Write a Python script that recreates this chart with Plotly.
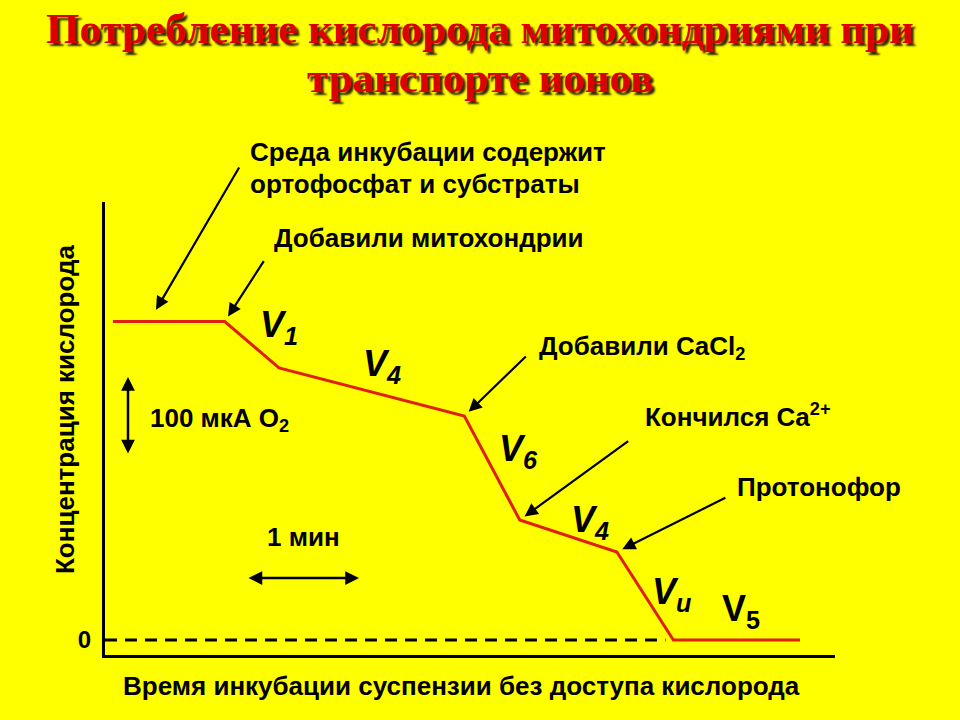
import plotly.graph_objects as go

# ---- data (time in minutes, O2 concentration in µM) ----
trace_time = [0.07, 1.06, 1.54, 3.18, 3.67, 4.53, 5.03, 6.15]
trace_o2 = [398, 398, 340, 280, 150, 110, 0, 0]
zero_time = [0.0, 4.96]
zero_o2 = [0, 0]
y_tick_vals = [0]
y_tick_text = ["0"]

title_lines = ["Потребление кислорода митохондриями при", "транспорте ионов"]
y_title = "Концентрация кислорода"
x_title = "Время инкубации суспензии без доступа кислорода"

# ---- layout geometry ----
W, H = 960, 720
L, R, T, B = 105, 835, 202, 655
X0, X1 = 0.0, (R - L) / 113.0
Y_ZERO_PX = 640
Y0, Y1 = -(B - Y_ZERO_PX) / 0.8, (Y_ZERO_PX - T) / 0.8


def dx(px):
    return X0 + (px - L) / (R - L) * (X1 - X0)


def dy(py):
    return Y0 + (B - py) / (B - T) * (Y1 - Y0)


def px_(px):
    return (px - L) / (R - L)


def py_(py):
    return (B - py) / (B - T)


fig = go.Figure()
fig.add_trace(go.Scatter(x=zero_time, y=zero_o2, mode="lines",
                         line=dict(color="black", width=3, dash="12px,8px"),
                         hoverinfo="skip", showlegend=False))
fig.add_trace(go.Scatter(x=trace_time, y=trace_o2, mode="lines",
                         line=dict(color="#E0200C", width=3),
                         showlegend=False))

SANS = "Liberation Sans, Arial, sans-serif"
TXT = 26
ann = []

# title with shadow
for txt, cy in zip(title_lines, [28, 78]):
    ann.append(dict(xref="paper", yref="paper", x=px_(480), y=py_(cy),
                    text=txt, showarrow=False, xanchor="center", yanchor="middle",
                    font=dict(family="Liberation Serif, Times New Roman, serif",
                              size=43, color="#DD0000", weight="bold",
                              shadow="3px 3px 2px #3a2a00")))

# plain labels (left px, center py, text)
labels = [
    (248, 152, "Среда инкубации содержит"),
    (248, 184, "ортофосфат и субстраты"),
    (272, 238, "Добавили митохондрии"),
    (537, 347, "Добавили CaCl<sub>2</sub>"),
    (643, 415, "Кончился Ca<sup>2+</sup>"),
    (735, 487, "Протонофор"),
    (148, 419, "100 мкА O<sub>2</sub>"),
    (265, 537, "1 мин"),
]
for lx, ly, txt in labels:
    ann.append(dict(x=px_(lx), y=py_(ly), xref="paper", yref="paper", text=txt,
                    showarrow=False, xanchor="left", yanchor="middle",
                    font=dict(family=SANS, size=TXT, color="black", weight="bold")))

# rate labels
rates = [
    (258, 327, "<i>V<sub>1</sub></i>"),
    (361, 366, "<i>V<sub>4</sub></i>"),
    (497, 451, "<i>V<sub>6</sub></i>"),
    (569, 522, "<i>V<sub>4</sub></i>"),
    (650, 594, "<i>V<sub>и</sub></i>"),
    (720, 611, "V<sub>5</sub>"),
]
for lx, ly, txt in rates:
    ann.append(dict(x=px_(lx), y=py_(ly), xref="paper", yref="paper", text=txt,
                    showarrow=False, xanchor="left", yanchor="middle",
                    font=dict(family=SANS, size=36, color="black", weight="bold")))

# pointer arrows: (tip x, tip y in data, tail offset px)
pointers = [
    (dx(153), dy(315), 87, -149),
    (trace_time[1], trace_o2[1], 40, -62),
    (trace_time[3], trace_o2[3], 63, -61),
    (trace_time[4], trace_o2[4], 110, -80),
    (trace_time[5], trace_o2[5], 110, -55),
]
for tx, ty, ax, ay in pointers:
    ann.append(dict(x=tx, y=ty, xref="x", yref="y", ax=ax, ay=ay, text="",
                    showarrow=True, arrowhead=2, arrowsize=1.2, arrowwidth=2.2,
                    arrowcolor="black", standoff=6))

# scale bars (double-headed)
ann.append(dict(x=dx(128), y=dy(377), ax=0, ay=78, xref="x", yref="y", text="",
                showarrow=True, arrowhead=2, startarrowhead=2, arrowside="end+start",
                arrowsize=1.1, startarrowsize=1.1, arrowwidth=2.5, arrowcolor="black"))
ann.append(dict(x=dx(359), y=dy(578), ax=-112, ay=0, xref="x", yref="y", text="",
                showarrow=True, arrowhead=2, startarrowhead=2, arrowside="end+start",
                arrowsize=1.1, startarrowsize=1.1, arrowwidth=2.5, arrowcolor="black"))

# axis titles
ann.append(dict(xref="paper", yref="paper", x=px_(65), y=py_(410), text=y_title,
                textangle=-90, showarrow=False, xanchor="center", yanchor="middle",
                font=dict(family=SANS, size=TXT, color="black", weight="bold")))
ann.append(dict(xref="paper", yref="paper", x=px_(461), y=py_(686), text=x_title,
                showarrow=False, xanchor="center", yanchor="middle",
                font=dict(family=SANS, size=TXT, color="black", weight="bold")))

fig.update_layout(
    width=W, height=H,
    margin=dict(l=L, r=W - R, t=T, b=H - B, pad=0),
    paper_bgcolor="#FFFF00", plot_bgcolor="#FFFF00",
    annotations=ann,
    showlegend=False,
)
fig.update_xaxes(range=[X0, X1], showgrid=False, zeroline=False, showline=True,
                 linecolor="black", linewidth=3, showticklabels=False, ticks="")
fig.update_yaxes(range=[Y0, Y1], showgrid=False, zeroline=False, showline=True,
                 linecolor="black", linewidth=3, ticks="", tickvals=y_tick_vals,
                 ticktext=y_tick_text, ticklabelstandoff=6,
                 tickfont=dict(family=SANS, size=24, color="black", weight="bold"))

fig.write_html("out.html", config={"displayModeBar": False},
               post_script="document.body.style.margin='0';"
                           "document.body.style.background='#FFFF00';")
